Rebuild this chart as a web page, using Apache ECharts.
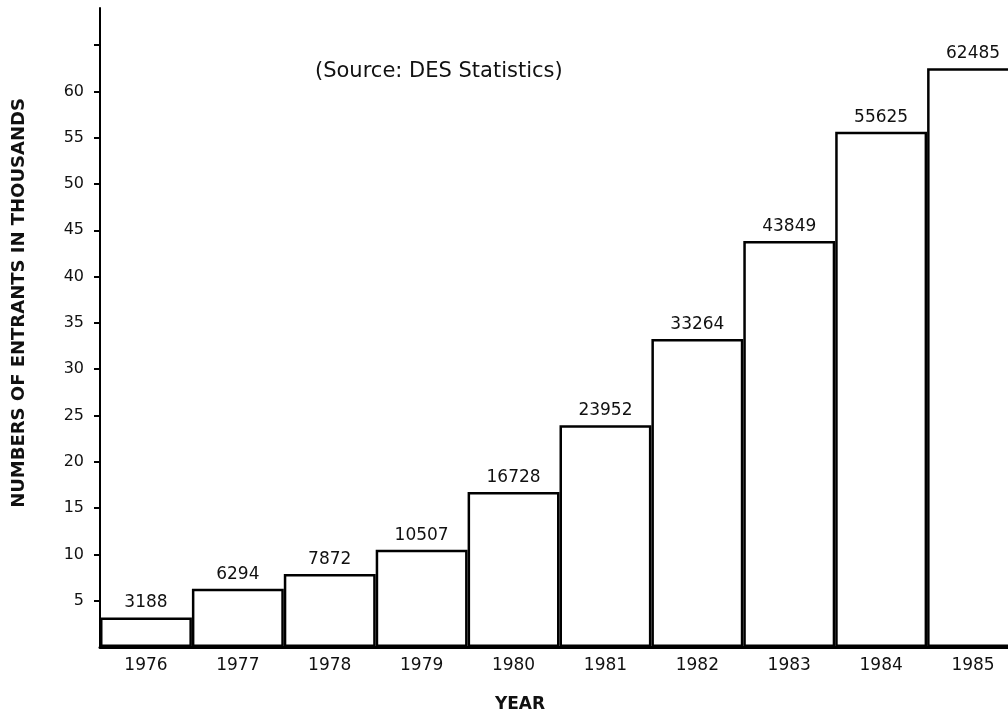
<!DOCTYPE html>
<html>
<head>
<meta charset="utf-8">
<script src="https://cdn.jsdelivr.net/npm/echarts@6/dist/echarts.min.js"></script>
<style>
  html, body { margin: 0; padding: 0; background: #fff; }
  #chart { width: 1008px; height: 721px; }
</style>
</head>
<body>
<div id="chart"></div>
<script>
// entrants per year (raw counts, plotted in thousands)
const years = ['1976', '1977', '1978', '1979', '1980', '1981', '1982', '1983', '1984', '1985']
const entrants = [3188, 6294, 7872, 10507, 16728, 23952, 33264, 43849, 55625, 62485]
const yTicks = [5, 10, 15, 20, 25, 30, 35, 40, 45, 50, 55, 60, 65]
const yLabels = [5, 10, 15, 20, 25, 30, 35, 40, 45, 50, 55, 60]

const chart = echarts.init(document.getElementById('chart'))
const font = 'DejaVu Sans, Liberation Sans, sans-serif'

chart.setOption({
  animation: false,
  grid: {
    left: 100,
    width: 919,
    top: 8,
    bottom: 74,
    outerBoundsMode: 'none'
  },
  xAxis: {
    type: 'category',
    data: years,
    boundaryGap: true,
    axisLine: { lineStyle: { color: '#000', width: 3 } },
    axisTick: { show: false },
    axisLabel: {
      color: '#111',
      fontFamily: font,
      fontSize: 17,
      margin: 10
    }
  },
  yAxis: {
    type: 'value',
    min: 0,
    max: 69,
    interval: 5,
    splitLine: { show: false },
    axisLine: { show: true, lineStyle: { color: '#000', width: 2 } },
    axisTick: {
      show: true,
      length: 6,
      customValues: yTicks,
      lineStyle: { color: '#000', width: 2 }
    },
    axisLabel: {
      color: '#111',
      fontFamily: font,
      fontSize: 16,
      margin: 16,
      customValues: yLabels
    }
  },
  graphic: [
    {
      type: 'text',
      left: 315,
      top: 61,
      style: {
        text: '(Source: DES Statistics)',
        fontFamily: font,
        fontSize: 21,
        fill: '#111'
      }
    },
    {
      type: 'text',
      x: 520,
      y: 705,
      style: {
        text: 'YEAR',
        fontFamily: font,
        fontSize: 17,
        fontWeight: 'bold',
        fill: '#111',
        align: 'center',
        verticalAlign: 'middle'
      }
    },
    {
      type: 'text',
      x: 19,
      y: 303,
      rotation: Math.PI / 2,
      style: {
        text: 'NUMBERS OF ENTRANTS IN THOUSANDS',
        fontFamily: font,
        fontSize: 18,
        fontWeight: 'bold',
        fill: '#111',
        align: 'center',
        verticalAlign: 'middle'
      }
    }
  ],
  series: [{
    type: 'bar',
    data: entrants.map(v => v / 1000),
    barWidth: '100%',
    barCategoryGap: 0,
    itemStyle: {
      color: '#fff',
      borderColor: '#000',
      borderWidth: 2.5
    },
    label: {
      show: true,
      position: 'top',
      distance: 6,
      color: '#111',
      fontFamily: font,
      fontSize: 17,
      formatter: p => entrants[p.dataIndex]
    }
  }]
})
</script>
</body>
</html>
